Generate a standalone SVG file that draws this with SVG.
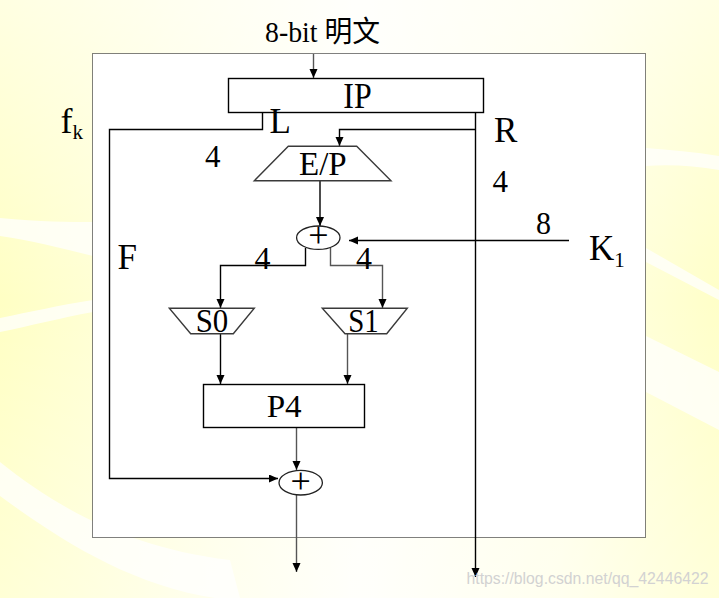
<svg xmlns="http://www.w3.org/2000/svg" width="719" height="598" viewBox="0 0 719 598">
<defs>
<linearGradient id="bg" x1="0" y1="0" x2="1" y2="0">
<stop offset="0" stop-color="#FFFFC4"/>
<stop offset="0.25" stop-color="#FFFFE2"/>
<stop offset="0.5" stop-color="#FFFFFA"/>
<stop offset="0.78" stop-color="#FFFFE8"/>
<stop offset="1" stop-color="#FFFFC8"/>
</linearGradient>
<linearGradient id="vg" x1="0" y1="0" x2="0" y2="1">
<stop offset="0" stop-color="#FFFFFF" stop-opacity="0.5"/>
<stop offset="0.5" stop-color="#FFFFFF" stop-opacity="0"/>
<stop offset="1" stop-color="#FFFFFF" stop-opacity="0.3"/>
</linearGradient>
<marker id="ah" markerUnits="userSpaceOnUse" markerWidth="10" markerHeight="10" refX="9" refY="4" orient="auto">
<path d="M0,0 L9,4 L0,8 z" fill="#000"/>
</marker>
<style>
.t{font-family:"Liberation Serif","Noto Sans CJK SC",serif;fill:#000}
.c{fill:none;stroke:#000;stroke-width:1.4}
.g{fill:none;stroke:#555;stroke-width:1.4}
.box{fill:#fff;stroke:#000;stroke-width:1.4}
.trap{fill:#fff;stroke:#3a3a3a;stroke-width:1.4}
.xor{fill:#fff;stroke:#222;stroke-width:1.3}
</style>
</defs>
<rect width="719" height="598" fill="url(#bg)"/>
<rect width="719" height="598" fill="url(#vg)"/>
<g fill="#FFFFFF" opacity="0.75">
<path d="M0,218 C40,222 70,222 93,222 L93,256 C60,248 30,240 0,236 z"/>
<path d="M0,318 C30,312 60,305 93,300 L93,312 C60,318 30,326 0,332 z"/>
<path d="M0,462 C60,510 130,548 230,560 L240,598 L215,598 C130,585 60,540 0,496 z"/>
<path d="M646,148 C670,150 695,152 719,156 L719,170 C695,166 670,164 646,166 z"/>
<path d="M646,336 L719,372 L719,430 L646,392 z"/>
<path d="M646,248 L719,290 L719,300 L646,262 z"/>
</g>
<rect id="frame" x="92.5" y="53.5" width="553" height="484" fill="#FFFFFF" stroke="#000" stroke-width="1" stroke-dasharray="1,1"/>

<g id="connectors">
<path class="g" d="M313.5,54 V78" marker-end="url(#ah)"/>
<path class="c" d="M262.5,112.5 V129.5 H109.5 V478.5 H278" marker-end="url(#ah)"/>
<path class="c" d="M475.5,112.5 V577" marker-end="url(#ah)"/>
<path class="c" d="M475.5,129.5 H339.5 V146" marker-end="url(#ah)"/>
<path class="c" d="M320,181 V226" marker-end="url(#ah)"/>
<path class="c" d="M569,240.5 H349" marker-end="url(#ah)"/>
<path class="c" d="M305.5,248 V265.5 H220.5 V308" marker-end="url(#ah)"/>
<path class="g" d="M330.5,248 V265.5 H382.5 V308" marker-end="url(#ah)"/>
<path class="c" d="M220.5,334 V384" marker-end="url(#ah)"/>
<path class="g" d="M347.5,334 V384" marker-end="url(#ah)"/>
<path class="g" d="M296.5,428 V470" marker-end="url(#ah)"/>
<path class="g" d="M296.5,495 V572" marker-end="url(#ah)"/>
</g>

<g id="IP">
<rect class="box" x="228.5" y="78.5" width="255" height="34"/>
<text class="t" x="343.3" y="108.3" font-size="36" textLength="28.4" lengthAdjust="spacingAndGlyphs">IP</text>
</g>
<g id="EP">
<polygon class="trap" points="288.3,146.3 356.7,146.3 391,180.7 254.3,180.7"/>
<text class="t" x="299" y="175" font-size="34" textLength="47.7" lengthAdjust="spacingAndGlyphs">E/P</text>
</g>
<g id="xor1">
<ellipse class="xor" cx="318.3" cy="237.7" rx="21.7" ry="11.7"/>
<text class="t" x="318.3" y="246.5" font-size="36" text-anchor="middle">+</text>
</g>
<g id="S0">
<polygon class="trap" points="169.3,308.3 254.3,308.3 233.3,333.7 190.7,333.7"/>
<text class="t" x="195.7" y="331.7" font-size="33" textLength="32.6" lengthAdjust="spacingAndGlyphs">S0</text>
</g>
<g id="S1">
<polygon class="trap" points="322.3,308.3 407.3,308.3 386.7,333.7 345,333.7"/>
<text class="t" x="348.3" y="331.7" font-size="33" textLength="30.5" lengthAdjust="spacingAndGlyphs">S1</text>
</g>
<g id="P4">
<rect class="box" x="203.5" y="384.5" width="161" height="43"/>
<text class="t" x="266.7" y="417.3" font-size="32" textLength="35" lengthAdjust="spacingAndGlyphs">P4</text>
</g>
<g id="xor2">
<ellipse class="xor" cx="300.7" cy="482.7" rx="21.7" ry="12.3"/>
<text class="t" x="300.7" y="492.5" font-size="36" text-anchor="middle">+</text>
</g>

<g id="labels">
<text class="t" x="265" y="41.7" font-size="29" textLength="115" lengthAdjust="spacingAndGlyphs">8-bit 明文</text>
<text class="t" x="269.5" y="132.7" font-size="35">L</text>
<text class="t" x="60.5" y="133.3" font-size="36">f<tspan font-size="21" dy="6">k</tspan></text>
<text class="t" x="494" y="141.7" font-size="35">R</text>
<text class="t" x="205" y="166.7" font-size="32" textLength="15.5" lengthAdjust="spacingAndGlyphs">4</text>
<text class="t" x="492.5" y="191.7" font-size="32" textLength="15.5" lengthAdjust="spacingAndGlyphs">4</text>
<text class="t" x="536" y="234" font-size="32" textLength="15" lengthAdjust="spacingAndGlyphs">8</text>
<text class="t" x="589" y="260" font-size="35">K<tspan font-size="21" dy="6.5">1</tspan></text>
<text class="t" x="117.5" y="269" font-size="35">F</text>
<text class="t" x="254.5" y="269" font-size="32" textLength="16" lengthAdjust="spacingAndGlyphs">4</text>
<text class="t" x="356" y="269" font-size="32" textLength="16" lengthAdjust="spacingAndGlyphs">4</text>
</g>
<text x="466.5" y="584" font-family="'Liberation Sans',Arial,sans-serif" font-size="17" fill="#D2D2D2" textLength="242" lengthAdjust="spacingAndGlyphs">https://blog.csdn.net/qq_42446422</text>
</svg>
